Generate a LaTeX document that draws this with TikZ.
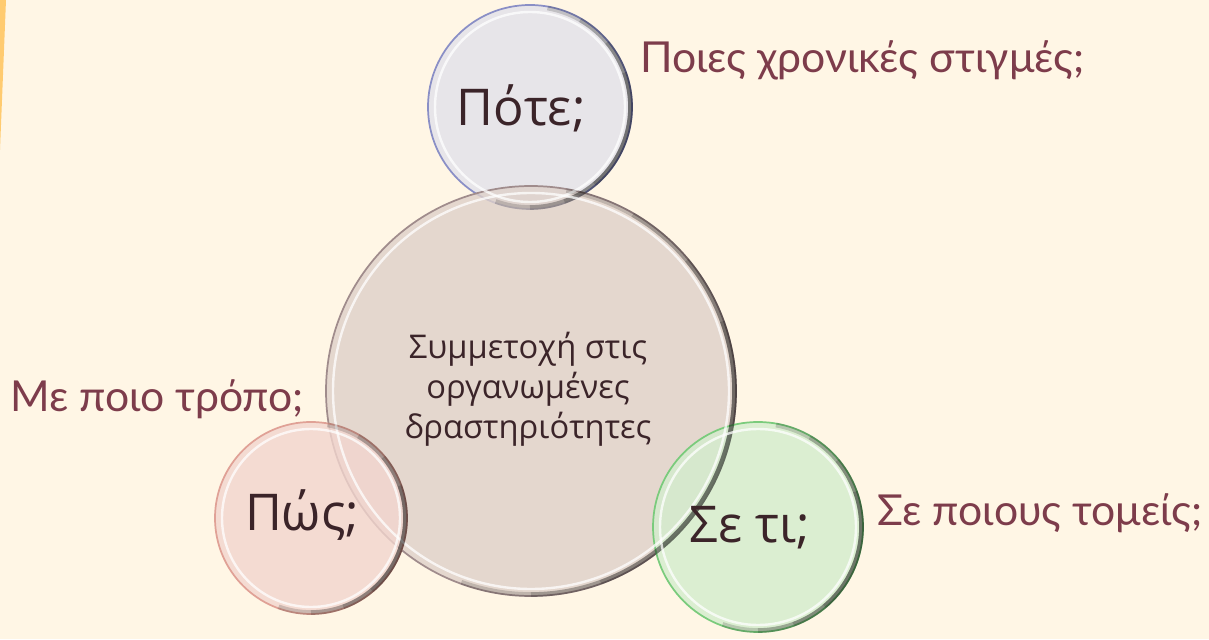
\documentclass[tikz,border=0pt]{standalone}
\usepackage{fontspec}
\setmainfont{Lato}
\newfontfamily\bubblefont{Open Sans}
\usepackage{tikz}
\usetikzlibrary{positioning,calc}
\definecolor{bgCream}{HTML}{FFF6E5}
\definecolor{stripOrange}{HTML}{FFCB70}
\definecolor{lblMaroon}{HTML}{7D3C4B}
\definecolor{txtBrown}{HTML}{3B2429}
\definecolor{poteFill}{HTML}{E2E1EB}
\definecolor{poteEdge}{HTML}{8A8FC6}
\definecolor{mainFill}{HTML}{DED0C9}
\definecolor{mainEdge}{HTML}{A08C8C}
\definecolor{posFill}{HTML}{F2D5CE}
\definecolor{posEdge}{HTML}{E0A196}
\definecolor{setiFill}{HTML}{D3EDCD}
\definecolor{setiEdge}{HTML}{7ACB7C}
\tikzset{
  bubble/.style={circle, inner sep=0pt, outer sep=0pt, minimum size=#1, line width=1.3pt, fill opacity=0.8},
  glint/.style={white, line width=1.8pt, opacity=0.75},
  shadearc/.style={black, line width=3.5pt, opacity=0.16},
  qtext/.style={font=\bubblefont\fontsize{38}{44}\selectfont, text=txtBrown, inner sep=0pt},
  maintext/.style={font=\bubblefont\fontsize{24.5}{30}\selectfont, text=txtBrown, align=center, inner sep=0pt},
  lbl/.style={font=\fontsize{32}{38}\selectfont, text=lblMaroon, inner sep=0pt, anchor=base west},
}
\begin{document}
\begin{tikzpicture}[x=0.75pt, y=0.75pt]
\fill[bgCream] (0,0) rectangle (1209,639);
\useasboundingbox (0,0) rectangle (1209,639);
\fill[stripOrange] (0,639) -- (6,639) -- (0,489) -- cycle;

% bubbles
\node[bubble=153pt, fill=poteFill, draw=poteEdge] (pote) at (530,532) {};
\node[bubble=307.5pt, fill=mainFill, draw=mainEdge] (main) at (531,248) {};
\node[bubble=144pt, fill=posFill, draw=posEdge] (pos) at (311,121) {};
\node[bubble=157.5pt, fill=setiFill, draw=setiEdge] (seti) at (758,112) {};

% glass rim and shadow
\foreach \n/\r in {pote/102, main/205, pos/96, seti/105} {
  \draw[glint] (\n.center) circle[radius=\r-7];
  \foreach \a/\b in {80/-110, 60/-90, 40/-70, 20/-50}
    \draw[shadearc] ([shift={(\a:\r-1.5)}]\n.center) arc[start angle=\a, end angle=\b, radius=\r-1.5];
}

% texts
\node[qtext] (poteTxt) at (521,531) {Πότε;};
\node[qtext] (posTxt) at (302,124) {Πώς;};
\node[qtext] (setiTxt) at (750,111) {Σε τι;};
\node[maintext] (mainTxt) at (528,250) {Συμμετοχή στις\\οργανωμένες\\δραστηριότητες};

\node[lbl] (poteLbl) at (640,566) {Ποιες χρονικές στιγμές;};
\node[lbl] (posLbl) at (10,227) {Με ποιο τρόπο;};
\node[lbl] (setiLbl) at (877,114) {Σε ποιους τομείς;};
\end{tikzpicture}
\end{document}
